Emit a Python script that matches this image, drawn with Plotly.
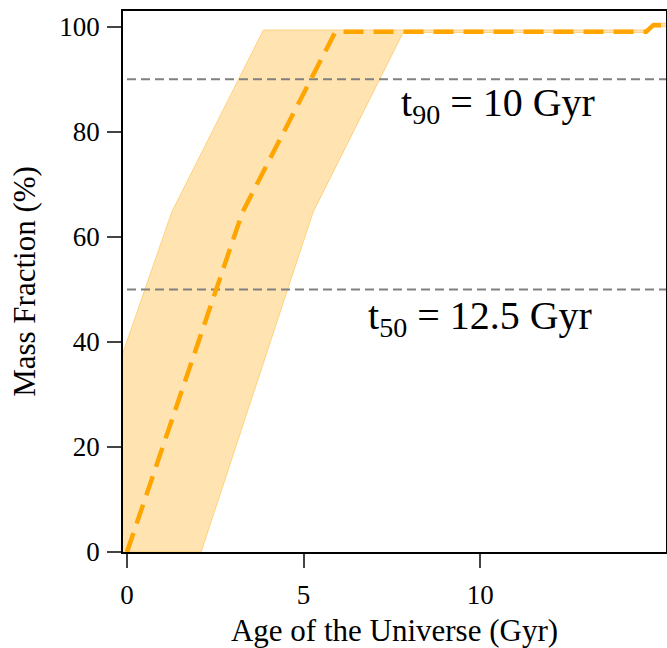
import plotly.graph_objects as go

# Median mass-assembly history (dashed orange)
median_age = [0.0, 3.27, 5.9, 14.7, 14.9, 15.5]
median_frac = [0.0, 64.7, 99.05, 99.05, 100.3, 100.3]

# Uncertainty band: upper (left) edge and lower (right) edge
band_hi_age = [-0.2, 1.27, 3.86, 14.7, 14.9, 15.5]
band_hi_frac = [36.3, 64.8, 99.4, 99.4, 100.7, 100.7]
band_lo_age = [-0.2, 2.1, 5.27, 7.82, 14.7, 14.9, 15.5]
band_lo_frac = [0.0, 0.0, 64.7, 98.9, 98.9, 100.0, 100.0]

# Reference levels and labels
ref_levels = [90, 50]
ref_labels = ["t<sub>90</sub> = 10 Gyr", "t<sub>50</sub> = 12.5 Gyr"]
label_x = [10.5, 10.0]
label_y = [85.1, 44.6]

x_ticks = [0, 5, 10]
y_ticks = [0, 20, 40, 60, 80, 100]
x_range = [-0.113, 15.26]
y_range = [0, 103]

FONT = "Liberation Serif"

fig = go.Figure()

poly_x = band_hi_age + band_lo_age[::-1]
poly_y = band_hi_frac + band_lo_frac[::-1]
fig.add_trace(go.Scatter(
    x=poly_x, y=poly_y, fill="toself", mode="lines",
    fillcolor="rgba(255,165,0,0.3)",
    line=dict(color="rgba(255,165,0,0.4)", width=1),
    hoverinfo="skip", showlegend=False,
))

for lvl in ref_levels:
    fig.add_trace(go.Scatter(
        x=[0, x_range[1]], y=[lvl, lvl], mode="lines",
        line=dict(color="#808080", width=2, dash="9px,5px"),
        showlegend=False, hoverinfo="skip",
    ))

fig.add_trace(go.Scatter(
    x=median_age, y=median_frac, mode="lines",
    line=dict(color="#FFA500", width=4.5, dash="20px,10px"),
    showlegend=False,
))

for txt, lx, ly in zip(ref_labels, label_x, label_y):
    fig.add_annotation(x=lx, y=ly, text=txt, showarrow=False,
                       font=dict(family=FONT, size=40, color="black"),
                       xanchor="center", yanchor="middle")

fig.update_layout(
    width=667, height=648,
    margin=dict(l=123, r=1, t=11, b=96, autoexpand=False),
    plot_bgcolor="white", paper_bgcolor="white",
    font=dict(family=FONT, size=27, color="black"),
)
fig.update_xaxes(
    range=x_range, tickvals=x_ticks, ticks="outside", ticklen=14, tickwidth=2,
    showline=True, linecolor="black", linewidth=1.5, mirror=True,
    showgrid=False, zeroline=False,
    title=dict(text="Age of the Universe (Gyr)", font=dict(size=31), standoff=11),
    tickfont=dict(size=27), ticklabelstandoff=4,
)
fig.update_yaxes(
    range=y_range, tickvals=y_ticks, ticks="outside", ticklen=14, tickwidth=2,
    showline=True, linecolor="black", linewidth=1.5, mirror=True,
    showgrid=False, zeroline=False,
    title=dict(text="Mass Fraction (%)", font=dict(size=31), standoff=14),
    tickfont=dict(size=27), ticklabelstandoff=2,
)

fig.write_html(
    "out.html",
    config={"displayModeBar": False},
    post_script="document.body.style.margin='0px';document.body.style.overflow='hidden';",
)
